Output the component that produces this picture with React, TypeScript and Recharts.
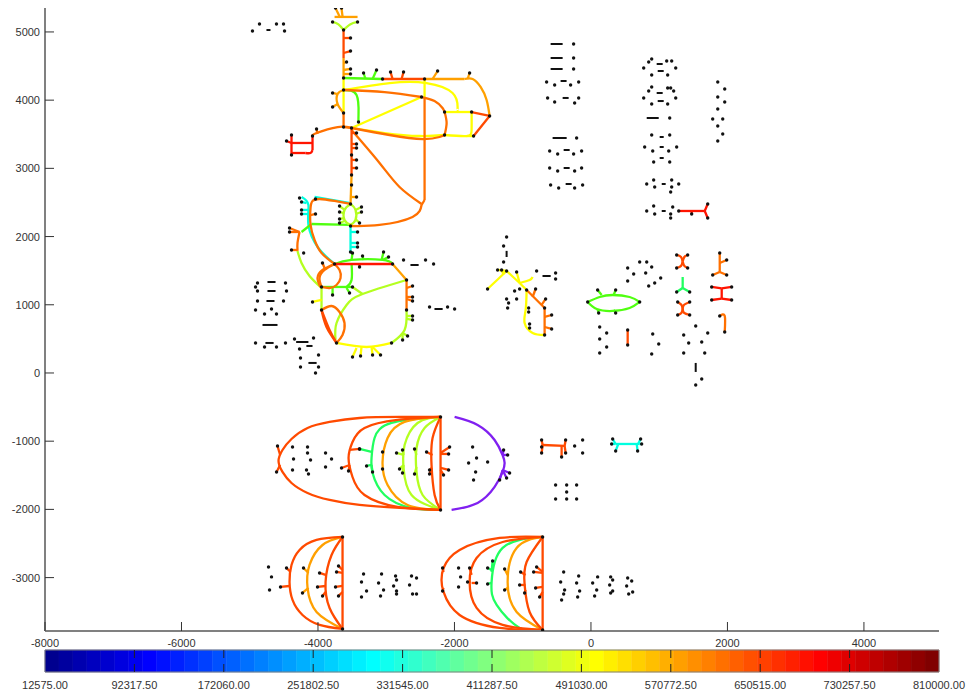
import { ComposedChart, Line, ReferenceArea, ReferenceLine, Scatter, XAxis, YAxis } from 'recharts';

type Pt = [number, number];

const X_TICKS = [-8000, -6000, -4000, -2000, 0, 2000, 4000];
const Y_TICKS = [-3000, -2000, -1000, 0, 1000, 2000, 3000, 4000, 5000];
const COLORBAR_TICKS = [12575, 92317.5, 172060, 251802.5, 331545, 411287.5, 491030, 570772.5, 650515, 730257.5, 810000];
const COLORBAR_BANDS = [
  '#00008f', '#00009f', '#0000af', '#0000bf', '#0000cf', '#0000df', '#0000ef', '#0000ff',
  '#0010ff', '#0020ff', '#0030ff', '#0040ff', '#0050ff', '#0060ff', '#0070ff', '#0080ff',
  '#008fff', '#009fff', '#00afff', '#00bfff', '#00cfff', '#00dfff', '#00efff', '#00ffff',
  '#10ffef', '#20ffdf', '#30ffcf', '#40ffbf', '#50ffaf', '#60ff9f', '#70ff8f', '#80ff80',
  '#8fff70', '#9fff60', '#afff50', '#bfff40', '#cfff30', '#dfff20', '#efff10', '#ffff00',
  '#ffef00', '#ffdf00', '#ffcf00', '#ffbf00', '#ffaf00', '#ff9f00', '#ff8f00', '#ff8000',
  '#ff7000', '#ff6000', '#ff5000', '#ff4000', '#ff3000', '#ff2000', '#ff1000', '#ff0000',
  '#ef0000', '#df0000', '#cf0000', '#bf0000', '#af0000', '#9f0000', '#8f0000', '#800000',
];

// pipes by colour, each one a run of points along the pipe
const redEdges: Pt[][] = [
  [[-3757, 1598], [-2907, 1598]],
  [[1286, 2375], [1667, 2375]],
  [[-4080, 3474], [-4080, 3269]],
  [[-4080, 3269], [-4110, 3225], [-4183, 3225]],
  [[-4183, 3225], [-4388, 3225]],
  [[-4388, 3372], [-4080, 3372]],
  [[1916, 1240], [1916, 1090]],
];
const redStubs: Pt[][] = [
  [[1711, 2478], [1667, 2375]],
  [[1711, 2272], [1667, 2375]],
  [[1476, 2331], [1476, 2375]],
  [[1769, 1261], [1916, 1240]],
  [[2062, 1261], [1916, 1240]],
  [[1769, 1070], [1916, 1090]],
  [[2062, 1070], [1916, 1090]],
  [[-3391, 1554], [-3391, 1598]],
  [[-4388, 3489], [-4388, 3372]],
  [[-4388, 3196], [-4388, 3372]],
  [[-4461, 3401], [-4388, 3372]],
];

const redOrangeEdges: Pt[][] = [
  [[-3625, 5028], [-3625, 4618]],
  [[-3054, 4310], [-2438, 4310]],
  [[-1749, 3826], [-1485, 3768]],
  [[-1485, 3768], [-1720, 3474]],
  [[-3508, 3592], [-3508, 2903]],
  [[538, 630], [538, 410]],
  [[-3948, 924], [-3875, 674], [-3728, 440]],
  [[-3948, 924], [-3830, 630], [-3728, 440]],
  [[-708, -1056], [-386, -1070]],
  [[-2204, -645], [-2204, -2008]],
  [[-2204, -645], [-2805, -645], [-3391, -660], [-3830, -718], [-4153, -806], [-4388, -968], [-4520, -1129], [-4578, -1290], [-4520, -1451], [-4388, -1613], [-4153, -1759], [-3830, -1862], [-3391, -1935], [-2805, -1979], [-2204, -2008]],
  [[-2204, -645], [-2834, -689], [-3318, -806], [-3494, -1012], [-3552, -1246], [-3494, -1525], [-3318, -1789], [-2834, -1964], [-2204, -2008]],
  [[-2204, -645], [-2321, -953], [-2336, -1349], [-2291, -1789], [-2204, -2008]],
  [[-3640, -2404], [-3640, -3753]],
  [[-3640, -2404], [-4021, -2448], [-4270, -2595], [-4388, -2815], [-4417, -3064], [-4373, -3328], [-4227, -3548], [-3977, -3694], [-3640, -3753]],
  [[-3640, -2404], [-3801, -2668], [-3889, -3064], [-3830, -3445], [-3640, -3753]],
  [[-708, -2404], [-708, -3768]],
  [[-708, -2404], [-1338, -2419], [-1925, -2595], [-2160, -2859], [-2190, -3035], [-2160, -3211], [-1925, -3548], [-1338, -3738], [-708, -3768]],
  [[-708, -2404], [-1294, -2478], [-1676, -2712], [-1778, -3064], [-1676, -3445], [-1294, -3694], [-708, -3768]],
  [[-708, -2404], [-943, -2771], [-972, -3108], [-899, -3504], [-708, -3768]],
];
const redOrangeStubs: Pt[][] = [
  [[-3523, 4911], [-3625, 4911]],
  [[-3523, 4720], [-3625, 4691]],
  [[-2937, 4413], [-2907, 4310]],
  [[-2746, 4413], [-2775, 4310]],
  [[-3435, 3518], [-3508, 3518]],
  [[-3435, 3357], [-3508, 3357]],
  [[-3435, 3298], [-3508, 3298]],
  [[-3435, 3123], [-3508, 3123]],
  [[-3435, 3005], [-3508, 3005]],
  [[1256, 1730], [1320, 1700], [1344, 1635]],
  [[1417, 1730], [1368, 1700], [1344, 1635]],
  [[1256, 1539], [1320, 1570], [1344, 1635]],
  [[1417, 1539], [1368, 1570], [1344, 1635]],
  [[1271, 1041], [1325, 1000], [1344, 940]],
  [[1447, 1041], [1365, 1000], [1344, 940]],
  [[1271, 850], [1325, 880], [1344, 940]],
  [[1447, 850], [1365, 880], [1344, 940]],
  [[-723, -982], [-708, -1056]],
  [[-723, -1085], [-708, -1056]],
  [[-723, -1173], [-708, -1056]],
  [[-371, -982], [-386, -1070]],
  [[-371, -1173], [-386, -1070]],
  [[-430, -1231], [-430, -1070]],
  [[-4593, -1070], [-4555, -1202]],
  [[-4607, -1451], [-4555, -1349]],
  [[-3655, -1393], [-3537, -1349]],
  [[-3391, -1114], [-3537, -1129]],
  [[-3552, -1437], [-3537, -1349]],
  [[-2409, -1158], [-2321, -1202]],
  [[-2365, -1422], [-2336, -1393]],
  [[-2365, -1481], [-2336, -1393]],
  [[-2071, -1085], [-2204, -1173]],
  [[-2086, -1187], [-2204, -1187]],
  [[-2086, -1422], [-2204, -1393]],
  [[-2160, -1495], [-2204, -1422]],
  [[-4461, -2859], [-4402, -2917]],
  [[-4549, -3137], [-4417, -3123]],
  [[-3977, -2932], [-3889, -2961]],
  [[-4007, -3137], [-3889, -3123]],
  [[-3933, -3269], [-3889, -3211]],
  [[-3699, -2829], [-3640, -2888]],
  [[-3728, -2917], [-3640, -2932]],
  [[-3743, -3137], [-3640, -3123]],
  [[-3699, -3269], [-3640, -3211]],
  [[-2174, -2859], [-2160, -2917]],
  [[-2174, -3196], [-2160, -3152]],
  [[-1778, -2859], [-1749, -2961]],
  [[-1808, -3064], [-1764, -3064]],
  [[-1676, -3079], [-1749, -3079]],
  [[-1031, -2917], [-958, -2961]],
  [[-1045, -3108], [-958, -3108]],
  [[-972, -3225], [-958, -3181]],
  [[-796, -2844], [-708, -2917]],
  [[-840, -2917], [-708, -2932]],
  [[-811, -3152], [-708, -3137]],
  [[-752, -3284], [-708, -3211]],
];

const orangeEdges: Pt[][] = [
  [[-2438, 4046], [-2438, 2536]],
  [[-2438, 2536], [-2482, 2463]],
  [[-3625, 4149], [-3024, 4119], [-2482, 4046]],
  [[-2482, 4046], [-2292, 3987], [-2175, 3885], [-2145, 3826]],
  [[-2145, 3826], [-2115, 3665], [-2145, 3489]],
  [[-3508, 3592], [-2951, 3489], [-2467, 3430], [-2218, 3460], [-2145, 3489]],
  [[-3625, 3812], [-3625, 3606]],
  [[-3625, 3606], [-3508, 3592]],
  [[-3508, 3592], [-3713, 3606], [-4021, 3518], [-4080, 3474]],
  [[-3508, 3562], [-3098, 3079], [-2805, 2727], [-2482, 2478]],
  [[-2482, 2463], [-2614, 2287], [-3098, 2170], [-3523, 2155]],
  [[-3523, 2478], [-3757, 2522], [-3977, 2551], [-4080, 2522], [-4109, 2419], [-4109, 2170], [-4050, 1950], [-3948, 1759], [-3757, 1598]],
  [[-4270, 2067], [-4300, 1906], [-4300, 1789]],
  [[-2702, 1363], [-2702, 924]],
  [[-3757, 1598], [-3684, 1510], [-3669, 1393], [-3728, 1290], [-3830, 1246], [-3948, 1261]],
  [[-3948, 1261], [-3977, 1393], [-3904, 1510], [-3757, 1598]],
  [[-3963, 1261], [-4007, 1393], [-3934, 1510], [-3757, 1598]],
  [[-3948, 924], [-3801, 982], [-3684, 894], [-3611, 733], [-3640, 557], [-3728, 440]],
  [[-943, 1217], [-679, 953]],
  [[-679, 953], [-679, 557]],
  [[1887, 1759], [1887, 1481]],
  [[1887, 836], [1960, 836], [1960, 600]],
];
const orangeStubs: Pt[][] = [
  [[-4021, 3577], [-4007, 3504]],
  [[-4036, 2331], [-4109, 2316]],
  [[-4417, 2126], [-4270, 2067]],
  [[-4417, 2067], [-4270, 2067]],
  [[-4388, 1803], [-4300, 1803]],
  [[-3934, 1613], [-3904, 1539]],
  [[-2614, 1275], [-2702, 1246]],
  [[-2614, 1114], [-2702, 1114]],
  [[-2614, 1055], [-2702, 1085]],
  [[-811, 1231], [-855, 1114]],
  [[-664, 1085], [-723, 997]],
  [[-576, 850], [-679, 821]],
  [[-576, 645], [-679, 674]],
  [[1784, 1437], [1887, 1481]],
  [[1989, 1437], [1887, 1481]],
  [[1989, 1657], [1887, 1613]],
];

const amberEdges: Pt[][] = [
  [[-3757, 5220], [-3420, 5220]],
  [[-3625, 4618], [-3625, 4325]],
  [[-2438, 4310], [-1852, 4310]],
  [[-1852, 4310], [-1734, 4310], [-1617, 4193], [-1529, 4002], [-1485, 3768]],
  [[-3625, 4149], [-3713, 4090], [-3713, 3944], [-3625, 3812]],
  [[-3508, 2903], [-3523, 2478]],
  [[-2907, 1598], [-2702, 1363]],
  [[-2204, -645], [-2731, -718], [-2980, -953], [-3054, -1305], [-2980, -1642], [-2687, -1935], [-2204, -2008]],
  [[-3640, -2404], [-3933, -2522], [-4124, -2815], [-4153, -3152], [-4021, -3504], [-3640, -3753]],
  [[-708, -2404], [-1089, -2565], [-1221, -3064], [-1089, -3504], [-708, -3768]],
];
const amberStubs: Pt[][] = [
  [[-3743, 5350], [-3680, 5220]],
  [[-3655, 5350], [-3640, 5220]],
  [[-3581, 4560], [-3625, 4545]],
  [[-3523, 4457], [-3625, 4442]],
  [[-3523, 4383], [-3625, 4383]],
  [[-2247, 4427], [-2321, 4310]],
  [[-1778, 4398], [-1808, 4310]],
  [[-3786, 4105], [-3713, 4090]],
  [[-3786, 3900], [-3713, 3944]],
  [[-3435, 2580], [-3508, 2580]],
  [[-4212, -2859], [-4139, -2932]],
  [[-4227, -3225], [-4139, -3152]],
  [[-1265, -2873], [-1221, -2961]],
  [[-1265, -3181], [-1221, -3152]],
];

const yellowEdges: Pt[][] = [
  [[-3625, 4325], [-3625, 4149]],
  [[-3625, 4149], [-2951, 4251], [-2409, 4251], [-2028, 4105], [-1954, 3900], [-1954, 3856]],
  [[-2438, 4325], [-2438, 4046]],
  [[-3508, 3592], [-2482, 4046]],
  [[-3508, 3592], [-3024, 3518], [-2511, 3474], [-2145, 3489]],
  [[-2145, 3489], [-1822, 3474], [-1749, 3562], [-1749, 3826]],
  [[-1822, 3474], [-1720, 3474]],
  [[-2145, 3826], [-1749, 3826]],
  [[-3625, 4149], [-3625, 3812]],
  [[-2922, 440], [-3288, 381], [-3728, 440]],
  [[-1515, 1231], [-1236, 1495]],
  [[-1236, 1495], [-1045, 1319]],
  [[-1045, 1319], [-899, 1363], [-855, 1407]],
  [[-1045, 1319], [-943, 1217]],
  [[-943, 1217], [-957, 924], [-972, 733], [-855, 586], [-679, 557]],
];
const yellowStubs: Pt[][] = [
  [[-3494, 235], [-3435, 367]],
  [[-3376, 249], [-3362, 381]],
  [[-3200, 264], [-3215, 381]],
  [[-3083, 264], [-3200, 381]],
  [[-4080, 1041], [-3948, 1070]],
  [[-1368, 1510], [-1236, 1495]],
  [[-1309, 1510], [-1280, 1440]],
  [[-1089, 1481], [-1045, 1319]],
];

const limeEdges: Pt[][] = [
  [[-3523, 2478], [-3611, 2390], [-3611, 2243], [-3523, 2170]],
  [[-3523, 2478], [-3450, 2390], [-3450, 2243], [-3523, 2170]],
  [[-4300, 1789], [-4241, 1613], [-4124, 1422], [-3963, 1261]],
  [[-2702, 924], [-2731, 630], [-2922, 440]],
  [[-2702, 1363], [-3347, 1158], [-3581, 997], [-3728, 733], [-3743, 484]],
  [[-3347, 1158], [-3494, 1261]],
  [[-3948, 1261], [-3948, 924]],
  [[-2204, -645], [-2541, -733], [-2731, -1056], [-2746, -1393], [-2629, -1789], [-2204, -2008]],
  [[-2204, -645], [-2438, -806], [-2556, -1100], [-2556, -1451], [-2467, -1789], [-2204, -2008]],
];
const limeStubs: Pt[][] = [
  [[-3786, 5146], [-3700, 5110], [-3625, 5028]],
  [[-3420, 5146], [-3530, 5110], [-3625, 5028]],
  [[-3684, 2448], [-3611, 2390]],
  [[-3684, 2360], [-3611, 2340]],
  [[-3684, 2258], [-3611, 2272]],
  [[-3684, 2199], [-3611, 2228]],
  [[-3362, 2434], [-3450, 2390]],
  [[-3362, 2360], [-3450, 2331]],
  [[-3391, 2199], [-3450, 2258]],
  [[-2614, 836], [-2702, 836]],
  [[-2614, 777], [-2702, 792]],
  [[-2687, 542], [-2760, 586]],
  [[-2760, 484], [-2760, 586]],
  [[-2849, -1173], [-2746, -1202]],
  [[-2761, -1129], [-2746, -1202]],
  [[-2761, -1466], [-2746, -1349]],
  [[-2805, -1407], [-2746, -1349]],
  [[-2585, -1114], [-2556, -1202]],
  [[-2585, -1481], [-2556, -1378]],
];

const greenEdges: Pt[][] = [
  [[-3625, 4325], [-3054, 4310]],
  [[-3625, 4149], [-3435, 4075], [-3406, 3782], [-3406, 3680]],
  [[-3523, 2170], [-4095, 2184]],
  [[-4095, 2184], [-4241, 2067]],
  [[-3757, 1598], [-3508, 1657], [-3054, 1657], [-2907, 1598]],
  [[-3948, 1261], [-3494, 1261]],
  [[-3508, 1613], [-3508, 1363], [-3581, 1261]],
  [[-48, 1041], [128, 1114], [318, 1143], [567, 1114], [714, 1041]],
  [[-48, 1041], [85, 938], [318, 909], [567, 953], [714, 1041]],
];
const greenStubs: Pt[][] = [
  [[-3332, 4398], [-3303, 4310]],
  [[-3142, 4442], [-3200, 4310]],
  [[-3347, 1715], [-3332, 1657]],
  [[-3494, 1759], [-3508, 1657]],
  [[-3039, 1774], [-3068, 1657]],
  [[-2966, 1701], [-3054, 1657]],
  [[-3786, 1143], [-3786, 1246]],
  [[-3537, 1173], [-3581, 1246]],
  [[98, 1217], [157, 1143]],
  [[362, 1217], [333, 1143]],
  [[113, 880], [98, 924]],
  [[362, 880], [333, 924]],
];

const springEdges: Pt[][] = [
  [[1344, 1407], [1344, 1246]],
  [[-2204, -645], [-2922, -733], [-3171, -953], [-3215, -1246], [-3200, -1466], [-3024, -1789], [-2629, -1979], [-2204, -2008]],
  [[-708, -2404], [-1294, -2565], [-1456, -3064], [-1382, -3401], [-1045, -3738], [-708, -3768]],
];
const springStubs: Pt[][] = [
  [[1256, 1187], [1344, 1246]],
  [[1447, 1187], [1344, 1246]],
  [[-3391, -1114], [-3215, -1158]],
  [[-3288, -1363], [-3215, -1349]],
  [[-3200, -1451], [-3215, -1349]],
  [[-1441, -2756], [-1456, -2917]],
  [[-1514, -2859], [-1456, -2888]],
  [[-1514, -3093], [-1456, -3079]],
];

const cyanEdges: Pt[][] = [
  [[-3523, 2170], [-3523, 1774]],
  [[-4240, 2580], [-4140, 2463], [-4140, 2170], [-3995, 1833], [-3757, 1598]],
  [[-4050, 2580], [-3523, 2490]],
  [[362, -1041], [714, -1041]],
];
const cyanStubs: Pt[][] = [
  [[-3420, 2067], [-3523, 2067]],
  [[-3420, 1906], [-3523, 1906]],
  [[-3420, 1847], [-3523, 1847]],
  [[-4241, 2507], [-4168, 2492]],
  [[-4241, 2390], [-4124, 2390]],
  [[-4241, 2331], [-4124, 2331]],
  [[318, -968], [362, -1041]],
  [[303, -1041], [362, -1041]],
  [[362, -1143], [400, -1041]],
  [[728, -968], [690, -1041]],
  [[743, -1041], [714, -1041]],
  [[684, -1143], [670, -1041]],
];

const purpleEdges: Pt[][] = [
  [[-1998, -645], [-1661, -762], [-1412, -982], [-1295, -1202], [-1265, -1319], [-1295, -1451], [-1412, -1671], [-1661, -1906], [-2042, -2008]],
];
const purpleStubs: Pt[][] = [
  [[-1280, -1129], [-1295, -1202]],
  [[-1221, -1202], [-1295, -1202]],
  [[-1192, -1466], [-1295, -1422]],
  [[-1236, -1539], [-1295, -1422]],
  [[-1338, -1569], [-1295, -1422]],
];

// junctions and loose nodes
const junctionNodes: Pt[] = [
  [-3625, 5028], [-3625, 4325], [-3625, 4149], [-3625, 3812], [-3625, 3606], [-3508, 3592], [-2482, 4046], [-2438, 4310],
  [-3054, 4310], [-2145, 3826], [-2145, 3489], [-1749, 3826], [-1485, 3768], [-1720, 3474], [-3523, 2478], [-3523, 2155],
  [-3757, 1598], [-2907, 1598], [-2702, 1363], [-2702, 924], [-2922, 440], [-3728, 440], [-3948, 924], [-3948, 1261],
  [-3494, 1261], [-4080, 3474], [-3508, 3196], [-3508, 2903], [-3508, 2756], [-3523, 1774], [-4210, 1760], [-1515, 1231],
  [-1236, 1495], [-943, 1217], [-679, 953], [-679, 557], [-48, 1041], [714, 1041], [538, 630], [538, 410], [-4270, 2565],
  [-4036, 2551], [1286, 2375], [1887, 1759], [1887, 836], [1960, 600], [-3406, 3680], [-913, 953], [-913, 894], [-899, 718], [-899, 660],
  [-2204, -645], [-2204, -2008], [-3640, -2404], [-3640, -3753], [-708, -2404], [-708, -3768], [-3054, -1158], [-3054, -1407],
];
const leftClusterNodes: Pt[] = [
  [-4960, 5014], [-4857, 5116], [-4608, 5116], [-4505, 5116], [-4490, 5014],
  [-4886, 1319], [-4476, 1319], [-4915, 1261], [-4886, 1202], [-4461, 1202], [-4886, 1055], [-4505, 1055], [-4915, 924],
  [-4783, 865], [-4681, 938], [-4608, 865], [-4915, 440], [-4783, 381], [-4608, 381], [-4476, 440], [-4344, 498], [-4065, 513],
  [-4270, 352], [-4256, 220], [-3992, 264], [-4256, 88], [-3992, 88], [-4036, 0],
  [-2746, 1657], [-2424, 1657], [-2306, 1598], [-2365, 968], [-2101, 968], [-1998, 938],
];
const centerClusterNodes: Pt[] = [
  [-1236, 1994], [-1280, 1862], [-1280, 1627], [-796, 1495], [-518, 1466], [-518, 1378], [-1119, 1202], [-1045, 1231],
  [-1236, 1085], [-1207, 1026], [-1089, 1085], [-1221, 953],
  [714, 1627], [817, 1627], [538, 1539], [890, 1554], [626, 1451], [802, 1466], [538, 1349], [1022, 1393], [934, 1319], [846, 1275],
  [128, 674], [230, 586], [128, 498], [230, 381], [128, 293], [905, 572], [993, 425], [890, 279],
  [1535, 689], [1359, 557], [1711, 586], [1432, 440], [1623, 454], [1359, 293], [1667, 293], [1623, -88], [1535, -176],
];
const upperRightNodes: Pt[] = [
  [-254, 4823], [-254, 4618], [-254, 4457], [-650, 4266], [-532, 4222], [-298, 4222], [-180, 4266],
  [-635, 4032], [-532, 3973], [-239, 3958], [-180, 4032], [-210, 3445], [-605, 3254], [-488, 3211], [-254, 3211], [-137, 3254],
  [-605, 3005], [-488, 2961], [-239, 2961], [-137, 3005], [-591, 2756], [-473, 2712], [-239, 2712], [-122, 2756],
  [890, 4603], [846, 4559], [773, 4471], [1110, 4574], [1183, 4574], [1242, 4471], [890, 4369], [1124, 4369],
  [890, 4193], [846, 4134], [773, 4032], [1124, 4178], [1168, 4178], [1212, 4134], [1242, 4032], [890, 3944], [1124, 3944],
  [1154, 3738], [890, 3489], [1154, 3489], [787, 3313], [905, 3254], [1139, 3254], [1256, 3313], [919, 3093], [1154, 3093],
  [817, 2771], [919, 2829], [934, 2727], [1183, 2829], [1183, 2727], [1168, 2653], [1286, 2771],
  [817, 2375], [919, 2448], [934, 2331], [1198, 2433], [1168, 2331], [1168, 2272],
  [1858, 4266], [1960, 4164], [1858, 4046], [1960, 3973], [1858, 3870], [1784, 3724], [1931, 3724], [1858, 3621], [1931, 3504], [1858, 3401],
];
const lowerNodes: Pt[] = [
  [-239, -1070], [-122, -982], [-122, -1173], [-518, -1642], [-356, -1642], [-210, -1642], [-356, -1745], [-518, -1847], [-356, -1847], [-210, -1847],
  [-4373, -1085], [-4153, -1085], [-4153, -1173], [-3889, -1173], [-4358, -1261], [-4109, -1275], [-3801, -1261], [-3889, -1378], [-4373, -1422], [-4168, -1422], [-4139, -1481],
  [-1734, -1085], [-1676, -1246], [-1793, -1319], [-1514, -1305], [-1690, -1451], [-1720, -1569],
  [-4725, -2844], [-4681, -2990], [-4710, -3181],
  [-3332, -2947], [-3362, -3064], [-3288, -3196], [-3362, -3284], [-3068, -2947], [-3112, -3079], [-3039, -3181], [-3083, -3269],
  [-2863, -2976], [-2849, -3035], [-2892, -3123], [-2849, -3196], [-2849, -3240], [-2629, -2976], [-2556, -3005], [-2658, -3108], [-2614, -3240], [-2556, -3240],
  [-1940, -2859], [-1910, -2990], [-1940, -3137],
  [-400, -2917], [-444, -3064], [-386, -3181], [-400, -3240], [-430, -3328], [-180, -2976], [-210, -3079], [-166, -3196], [-195, -3284],
  [98, -2990], [25, -3079], [84, -3181], [54, -3269], [289, -2990], [318, -3035], [274, -3108], [318, -3196], [289, -3225],
  [538, -3005], [597, -3049], [523, -3123], [611, -3211], [553, -3240],
];
// short elements that draw as black dashes
const shortElements: Pt[][] = [
  [[-4755, 5028], [-4696, 5028]],
  [[-4740, 1334], [-4622, 1334]], [[-4740, 1202], [-4622, 1202]], [[-4755, 1055], [-4637, 1055]],
  [[-4813, 704], [-4593, 704]], [[-4770, 440], [-4650, 440]], [[-4320, 454], [-4140, 454]], [[-4170, 396], [-4080, 396]], [[-4140, 147], [-4020, 147]],
  [[-2645, 1583], [-2525, 1583]], [[-2293, 938], [-2173, 938]], [[-710, 1422], [-590, 1422]],
  [[1535, 147], [1535, 15]], [[-1236, 1790], [-1236, 1700]],
  [[-591, 4823], [-415, 4823]], [[-591, 4618], [-415, 4618]], [[-591, 4457], [-415, 4457]],
  [[-445, 4281], [-357, 4281]], [[-415, 4032], [-327, 4032]], [[-562, 3445], [-356, 3445]],
  [[-400, 3269], [-312, 3269]], [[-400, 3005], [-312, 3005]], [[-371, 2771], [-283, 2771]],
  [[963, 4530], [1051, 4530]], [[978, 4427], [1066, 4427]], [[963, 4105], [1051, 4105]], [[978, 3987], [1066, 3987]],
  [[817, 3738], [993, 3738]], [[1007, 3460], [1066, 3460]], [[1007, 3313], [1066, 3313]], [[1007, 3152], [1066, 3152]],
  [[1037, 2771], [1095, 2771]], [[1037, 2375], [1095, 2375]],
];

const allNodes: Pt[] = [...junctionNodes, ...leftClusterNodes, ...centerClusterNodes, ...upperRightNodes, ...lowerNodes];

const PIPE_GROUPS: { color: string; edges: Pt[][]; stubs: Pt[][] }[] = [
  { color: '#00ffe0', edges: cyanEdges, stubs: cyanStubs },
  { color: '#20ff60', edges: springEdges, stubs: springStubs },
  { color: '#50ff10', edges: greenEdges, stubs: greenStubs },
  { color: '#b4ff20', edges: limeEdges, stubs: limeStubs },
  { color: '#ffff00', edges: yellowEdges, stubs: yellowStubs },
  { color: '#ffa000', edges: amberEdges, stubs: amberStubs },
  { color: '#ff7000', edges: orangeEdges, stubs: orangeStubs },
  { color: '#ff4a00', edges: redOrangeEdges, stubs: redOrangeStubs },
  { color: '#ff1400', edges: redEdges, stubs: redStubs },
  { color: '#8020f0', edges: purpleEdges, stubs: purpleStubs },
];

const AXIS_COLOR = '#808080';
const TICK_COLOR = '#333';
const TEXT_COLOR = '#333';
const FONT = '"Liberation Sans", Arial, sans-serif';

const toRows = (pts: Pt[]) => pts.map(([x, y]) => ({ x, y }));

function pipe(pts: Pt[], key: string, color: string, width: number) {
  return (
    <Line
      key={key}
      data={toRows(pts)}
      dataKey="y"
      type="natural"
      stroke={color}
      strokeWidth={width}
      dot={false}
      activeDot={false}
      isAnimationActive={false}
    />
  );
}

function XTick({ x, y, payload }: any) {
  return (
    <g>
      <line x1={x} x2={x} y1={y} y2={y - 9} stroke={TICK_COLOR} />
      <text x={x} y={y + 16} textAnchor="middle" fontSize={11} fontFamily={FONT} fill={TEXT_COLOR}>
        {payload.value}
      </text>
    </g>
  );
}

function YTick({ x, y, payload }: any) {
  return (
    <g>
      <line x1={x} x2={x + 9} y1={y} y2={y} stroke={TICK_COLOR} />
      <text x={x - 5} y={y + 4} textAnchor="end" fontSize={11} fontFamily={FONT} fill={TEXT_COLOR}>
        {payload.value}
      </text>
    </g>
  );
}

function BarTick({ x, y, payload }: any) {
  return (
    <text x={x} y={y + 17} textAnchor="middle" fontSize={11} fontFamily={FONT} fill={TEXT_COLOR}>
      {payload.value.toFixed(2)}
    </text>
  );
}

const bandEdge = (i: number) =>
  COLORBAR_TICKS[0] + ((COLORBAR_TICKS[COLORBAR_TICKS.length - 1] - COLORBAR_TICKS[0]) * i) / COLORBAR_BANDS.length;

export default function App() {
  return (
    <div style={{ position: 'absolute', left: 0, top: 0, width: 967, height: 694, background: '#fff' }}>
      <div style={{ position: 'absolute', left: 0, top: 0 }}>
        <ComposedChart width={967} height={650} margin={{ top: 8, right: 28, bottom: 0, left: 0 }}>
          <XAxis
            type="number"
            dataKey="x"
            domain={[-8000, 5100]}
            ticks={X_TICKS}
            height={19}
            axisLine={{ stroke: AXIS_COLOR, strokeWidth: 2 }}
            tickLine={false}
            tickSize={0}
            tickMargin={0}
            interval={0}
            tick={<XTick />}
            allowDataOverflow
          />
          <YAxis
            type="number"
            dataKey="y"
            domain={[-3783, 5351]}
            ticks={Y_TICKS}
            width={45}
            axisLine={{ stroke: AXIS_COLOR, strokeWidth: 2 }}
            tickLine={false}
            tickSize={0}
            tickMargin={0}
            interval={0}
            tick={<YTick />}
            allowDataOverflow
          />
          {PIPE_GROUPS.flatMap((g, gi) => [
            ...g.edges.map((pts, i) => pipe(pts, `e${gi}-${i}`, g.color, 2.3)),
            ...g.stubs.map((pts, i) => pipe(pts, `s${gi}-${i}`, g.color, 2.3)),
          ])}
          {shortElements.map((pts, i) => pipe(pts, `d${i}`, '#111', 2))}
          <Scatter
            data={toRows([...allNodes, ...PIPE_GROUPS.flatMap((g) => g.stubs.map((s) => s[0]))])}
            dataKey="y"
            isAnimationActive={false}
            shape={(p: any) => <circle cx={p.cx} cy={p.cy} r={1.7} fill="#111" />}
          />
        </ComposedChart>
      </div>
      <div style={{ position: 'absolute', left: 0, top: 645 }}>
        <ComposedChart
          width={967}
          height={49}
          data={COLORBAR_TICKS.map((x) => ({ x, y: 0 }))}
          margin={{ top: 5, right: 28, bottom: 0, left: 45 }}
        >
          <XAxis
            type="number"
            dataKey="x"
            domain={[COLORBAR_TICKS[0], COLORBAR_TICKS[COLORBAR_TICKS.length - 1]]}
            ticks={COLORBAR_TICKS}
            height={22}
            axisLine={false}
            tickLine={false}
            tickSize={0}
            tickMargin={0}
            interval={0}
            tick={<BarTick />}
          />
          <YAxis type="number" domain={[0, 1]} hide />
          <Line dataKey="y" stroke="none" dot={false} activeDot={false} isAnimationActive={false} />
          {COLORBAR_BANDS.map((c, i) => (
            <ReferenceArea
              key={c + i}
              x1={bandEdge(i)}
              x2={bandEdge(i + 1)}
              y1={0}
              y2={1}
              fill={c}
              fillOpacity={1}
              stroke={c}
              strokeWidth={0.5}
            />
          ))}
          {COLORBAR_TICKS.slice(1, -1).map((t) => (
            <ReferenceLine key={t} x={t} stroke="#222" strokeDasharray="8 6" />
          ))}
          <ReferenceArea
            x1={COLORBAR_TICKS[0]}
            x2={COLORBAR_TICKS[COLORBAR_TICKS.length - 1]}
            y1={0}
            y2={1}
            fill="none"
            stroke={AXIS_COLOR}
            strokeWidth={1}
          />
        </ComposedChart>
      </div>
    </div>
  );
}
